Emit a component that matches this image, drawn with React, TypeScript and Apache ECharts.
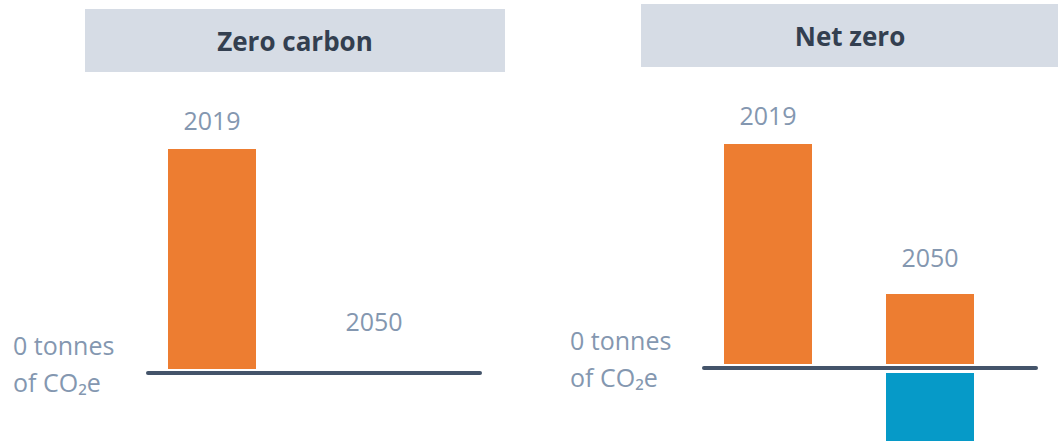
import React, { useEffect, useRef } from 'react';
import * as echarts from 'echarts';

// ---- data ----
const categories = ['2019', '2050'];
const zeroCarbonEmissions: number[] = [100, 0];
const netZeroEmissions: number[] = [100, 33];
const netZeroRemovals: (number | null)[] = [null, -33];
const panelTitles = ['Zero carbon', 'Net zero'];
const zeroLabelLines = ['0 tonnes', 'of CO₂e'];
const Y_MIN = -35;
const Y_MAX = 110;

// ---- styles ----
const ORANGE = '#ed7d31';
const BLUE = '#069ac8';
const AXIS = '#44546a';
const LABEL = '#8497b0';
const TITLE = '#333f50';
const BOX = '#d6dce5';
const FONT = "'Open Sans', sans-serif";

export default function App() {
  const ref = useRef<HTMLDivElement>(null);

  useEffect(() => {
    document.body.style.margin = '0';
    const chart = echarts.init(ref.current!, null, { renderer: 'svg' });
    const pxPerUnit = 2.24;
    const plotH = (Y_MAX - Y_MIN) * pxPerUnit;

    const panels = [
      {
        zeroY: 373, barLeft: 131, lineLeft: 148, labelMargin: 135,
        emissions: zeroCarbonEmissions, removals: null as (number | null)[] | null,
        dist: [17, 39.5], box: { x: 85, y: 9, w: 420, h: 63 }, title: panelTitles[0], tx: 295,
      },
      {
        zeroY: 368, barLeft: 687, lineLeft: 704, labelMargin: 134,
        emissions: netZeroEmissions, removals: netZeroRemovals,
        dist: [17, 24.5], box: { x: 641, y: 4, w: 420, h: 63 }, title: panelTitles[1], tx: 850,
      },
    ];

    const zeroLabel = zeroLabelLines.map((l) => `{t|${l}}`).join('\n') + '\n{g| }';

    const grid: any[] = [];
    const xAxis: any[] = [];
    const yAxis: any[] = [];
    const series: any[] = [];
    const graphic: any[] = [];

    panels.forEach((p, k) => {
      const top = p.zeroY - Y_MAX * pxPerUnit;
      const gb = 2 * k;
      const gl = 2 * k + 1;
      grid.push({ left: p.barLeft, top, width: 324, height: plotH, outerBoundsMode: 'none', containLabel: false });
      grid.push({ left: p.lineLeft, top, width: 332, height: plotH, outerBoundsMode: 'none', containLabel: false });

      xAxis.push({ gridIndex: gb, type: 'category', data: categories, show: false });
      xAxis.push({
        gridIndex: gl, type: 'category', data: [''], z: 10,
        axisLine: { show: true, onZero: true, lineStyle: { color: AXIS, width: 4 } },
        axisTick: { show: false }, axisLabel: { show: false }, splitLine: { show: false },
      });

      yAxis.push({ gridIndex: gb, type: 'value', min: Y_MIN, max: Y_MAX, show: false });
      yAxis.push({
        gridIndex: gl, type: 'value', min: Y_MIN, max: Y_MAX, interval: 5,
        axisLine: { show: false }, axisTick: { show: false }, splitLine: { show: false },
        axisLabel: {
          formatter: (v: number) => (v === 0 ? zeroLabel : ''),
          align: 'left', margin: p.labelMargin, color: LABEL, fontSize: 25,
          fontFamily: FONT,
          rich: {
            t: { color: LABEL, fontSize: 25, fontFamily: FONT, lineHeight: 37, align: 'left' },
            g: { fontSize: 1, lineHeight: 20 },
          },
        },
      });

      series.push({
        type: 'bar', name: 'Emissions', xAxisIndex: gb, yAxisIndex: gb, stack: 's' + k,
        barWidth: 88,
        itemStyle: { color: ORANGE },
        label: {
          show: true, position: 'top', formatter: '{b}', color: LABEL,
          fontSize: 25, fontFamily: FONT,
        },
        data: p.emissions.map((v, i) => ({ value: v, label: { distance: p.dist[i] } })),
        markLine: {
          silent: true, symbol: 'none', label: { show: false },
          lineStyle: { color: '#ffffff', width: 9, type: 'solid' },
          data: [{ yAxis: 0 }],
        },
      });
      if (p.removals) {
        series.push({
          type: 'bar', name: 'Removals', xAxisIndex: gb, yAxisIndex: gb, stack: 's' + k,
          barWidth: 88, itemStyle: { color: BLUE }, data: p.removals,
        });
      }

      graphic.push({
        type: 'rect', shape: { x: p.box.x, y: p.box.y, width: p.box.w, height: p.box.h },
        style: { fill: BOX }, z: -1,
      });
      graphic.push({
        type: 'text', x: p.tx, y: p.box.y + p.box.h / 2,
        style: {
          text: p.title, fill: TITLE, fontSize: 26, fontWeight: 'bold', fontFamily: FONT,
          align: 'center', verticalAlign: 'middle',
        },
      });
    });

    chart.setOption({
      animation: false,
      backgroundColor: '#ffffff',
      grid, xAxis, yAxis, series, graphic,
    });
    return () => chart.dispose();
  }, []);

  return <div ref={ref} style={{ width: 1058, height: 441 }} />;
}
